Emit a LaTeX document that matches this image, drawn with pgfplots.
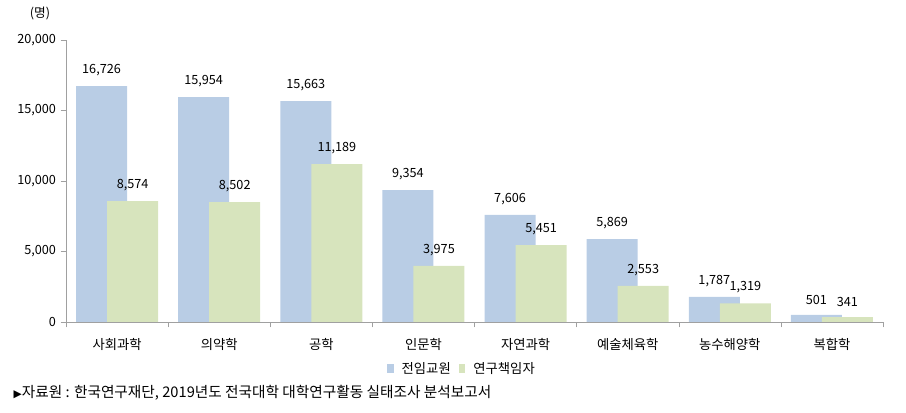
\documentclass[border=0pt]{standalone}
\usepackage{fontspec}
\setmainfont{Noto Sans CJK KR}
\newfontfamily\symfont{DejaVu Sans}
\usepackage{pgfplots}
\pgfplotsset{compat=1.18}
\definecolor{cblue}{RGB}{185,205,229}
\definecolor{cgreen}{RGB}{215,228,189}
\definecolor{axgray}{RGB}{160,160,160}
\begin{document}
\begin{tikzpicture}[x=1pt,y=1pt]
\path[use as bounding box] (-49.5pt,-68.25pt) rectangle (630pt,241.5pt);
\begin{axis}[
  at={(0,0)}, anchor=south west,
  scale only axis, width=612.75pt, height=211.5pt,
  xmin=-0.5, xmax=7.5, ymin=0, ymax=20000,
  axis x line*=bottom, axis y line*=left,
  axis line style={draw=axgray,-},
  xtick={0,...,7},
  xticklabels={사회과학,의약학,공학,인문학,자연과학,예술체육학,농수해양학,복합학},
  major x tick style={draw=none},
  minor xtick={-0.5,0.5,...,7.5},
  minor x tick style={draw=axgray},
  minor tick length=4pt,
  ytick={0,5000,10000,15000,20000},
  y tick style={draw=axgray},
  major tick length=4pt,
  tick align=outside,
  /pgf/number format/1000 sep={,},
  /pgf/number format/assume math mode=true,
  scaled y ticks=false,
  tick label style={font=\fontsize{9.5}{11}\selectfont},
  xticklabel style={font=\fontsize{10}{12}\selectfont, yshift=-5pt},
  ybar, bar width=0.5,
  nodes near coords,
  nodes near coords style={font=\fontsize{9.5}{11}\selectfont, yshift=4pt},
  legend style={at={(0.485,-0.165)}, anchor=center, draw=none, legend columns=2, font=\fontsize{10}{12}\selectfont, column sep=4pt},
  legend image code/.code={\fill[#1] (1pt,-3.5pt) rectangle (6pt,3.5pt);},
]
\addplot[fill=cblue, draw=none, bar shift=-0.152] coordinates {(0,16726) (1,15954) (2,15663) (3,9354) (4,7606) (5,5869) (6,1787) (7,501)};
\addplot[fill=cgreen, draw=none, bar shift=0.152] coordinates {(0,8574) (1,8502) (2,11189) (3,3975) (4,5451) (5,2553) (6,1319) (7,341)};
\legend{전임교원,연구책임자}
\end{axis}
\node[font=\fontsize{9.5}{11}\selectfont] at (-19.5pt,231.5pt) {(명)};
\node[anchor=west, font=\fontsize{11}{13}\selectfont, inner sep=0pt] at (-39.5pt,-53.25pt) {{\symfont\fontsize{8}{9}\selectfont ▶}자료원 : 한국연구재단, 2019년도 전국대학 대학연구활동 실태조사 분석보고서};
\end{tikzpicture}
\end{document}
